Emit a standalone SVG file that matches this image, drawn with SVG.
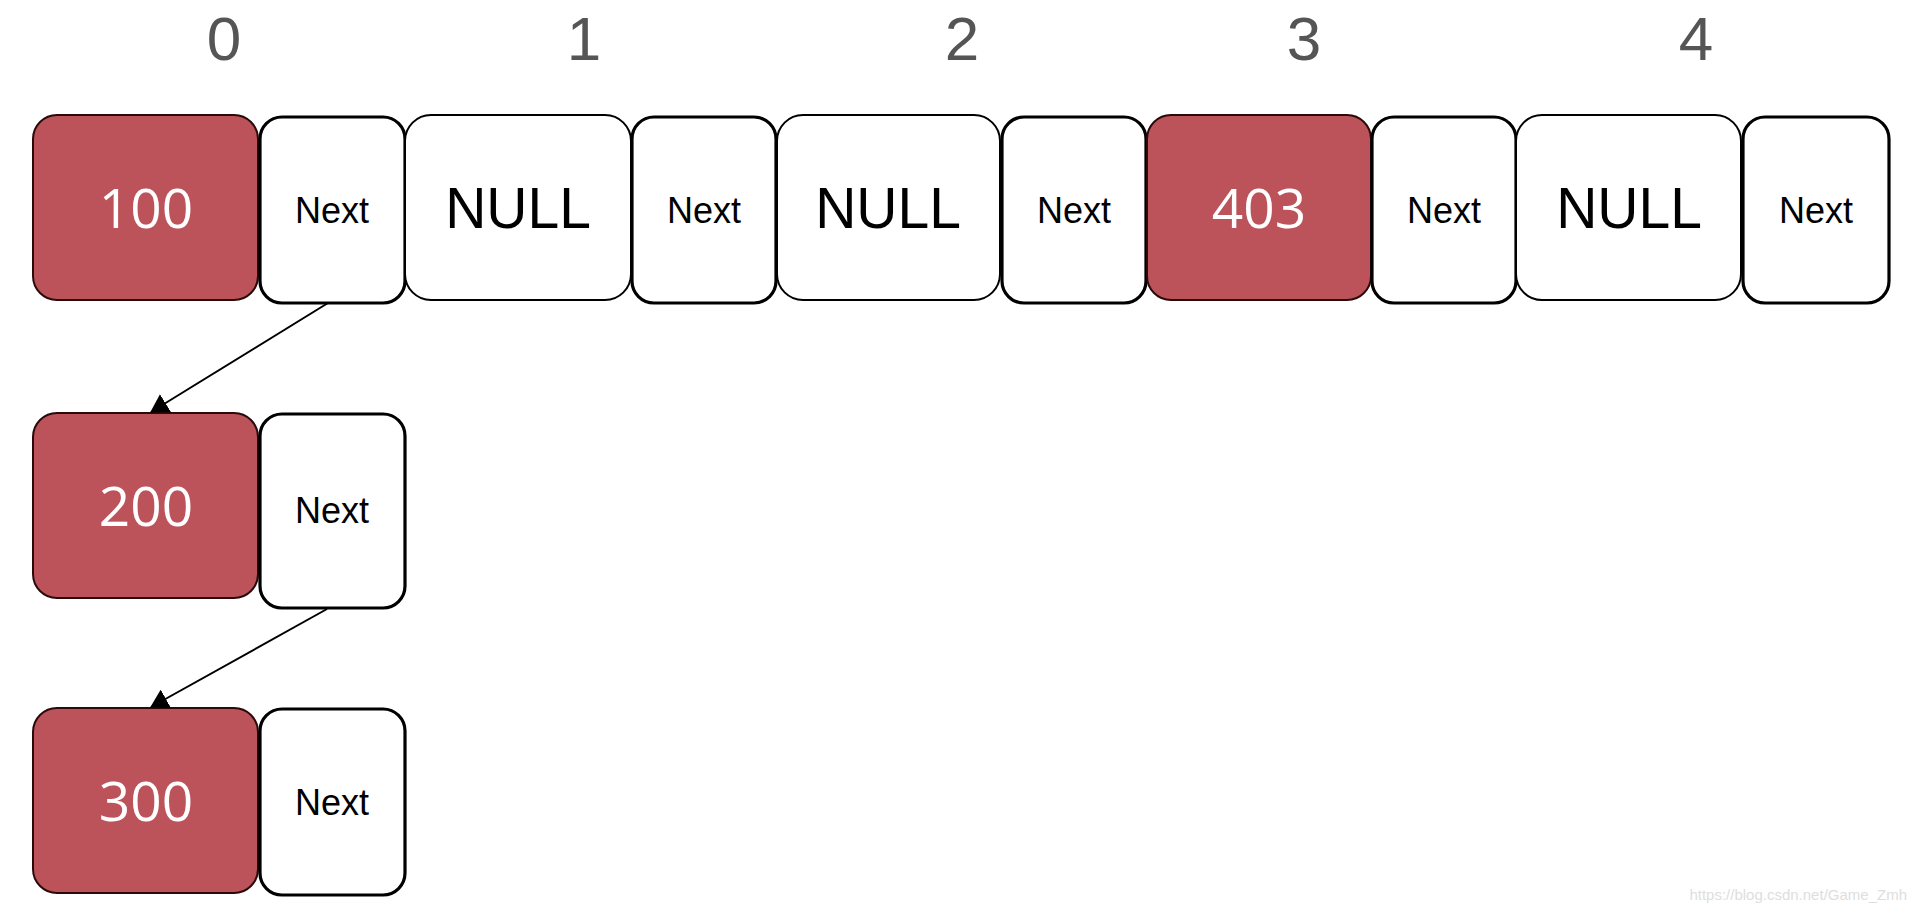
<svg xmlns="http://www.w3.org/2000/svg" width="1916" height="914" viewBox="0 0 1916 914">
<style>
.red{fill:#bc535a;stroke:#2a0a0a;stroke-width:2}
.nul{fill:#fff;stroke:#000;stroke-width:2}
.nxt{fill:#fff;stroke:#000;stroke-width:3.2}
.idx{font-family:"Liberation Sans",Arial,sans-serif;font-size:62px;fill:#555;text-anchor:middle}
.num{font-family:"Open Sans","Liberation Sans",sans-serif;font-size:55px;fill:#fff;text-anchor:middle}
.nt{font-family:"Liberation Sans",Arial,sans-serif;font-size:36px;fill:#000;text-anchor:middle}
.nl{font-family:"Liberation Sans",Arial,sans-serif;font-size:57px;fill:#000;text-anchor:middle}
.lnk{fill:none;stroke:#000;stroke-width:2}
.wm{font-family:"Liberation Sans",Arial,sans-serif;font-size:15px;fill:#dedede;text-anchor:end}
</style>
<defs>
<marker id="ah" markerUnits="userSpaceOnUse" viewBox="0 0 18 21" refX="17" refY="10.5" markerWidth="18" markerHeight="21" orient="auto">
<path d="M0,0 L18,10.5 L0,21 z" fill="#000"/>
</marker>
</defs>
<rect width="1916" height="914" fill="#fff"/>
<g id="indices">
<text class="idx" x="224" y="60">0</text>
<text class="idx" x="584" y="60">1</text>
<text class="idx" x="962" y="60">2</text>
<text class="idx" x="1304" y="60">3</text>
<text class="idx" x="1696" y="60">4</text>
</g>
<g id="n100"><rect class="red" x="33" y="115" width="225" height="185" rx="24"/><text class="num" x="146" y="228">100</text></g>
<g id="next0"><rect class="nxt" x="260" y="117" width="145" height="186" rx="22"/><text class="nt" x="332" y="223">Next</text></g>
<g id="null1"><rect class="nul" x="405" y="115" width="226" height="185" rx="26"/><text class="nl" x="518" y="228">NULL</text></g>
<g id="next1"><rect class="nxt" x="632" y="117" width="144" height="186" rx="22"/><text class="nt" x="704" y="223">Next</text></g>
<g id="null2"><rect class="nul" x="777" y="115" width="223" height="185" rx="26"/><text class="nl" x="888" y="228">NULL</text></g>
<g id="next2"><rect class="nxt" x="1002" y="117" width="144" height="186" rx="22"/><text class="nt" x="1074" y="223">Next</text></g>
<g id="n403"><rect class="red" x="1147" y="115" width="224" height="185" rx="24"/><text class="num" x="1259" y="228">403</text></g>
<g id="next3"><rect class="nxt" x="1372" y="117" width="144" height="186" rx="22"/><text class="nt" x="1444" y="223">Next</text></g>
<g id="null4"><rect class="nul" x="1516" y="115" width="225" height="185" rx="26"/><text class="nl" x="1629" y="228">NULL</text></g>
<g id="next4"><rect class="nxt" x="1743" y="117" width="146" height="186" rx="22"/><text class="nt" x="1816" y="223">Next</text></g>
<g id="n200"><rect class="red" x="33" y="413" width="225" height="185" rx="24"/><text class="num" x="146" y="526">200</text></g>
<g id="next200"><rect class="nxt" x="260" y="414" width="145" height="194" rx="22"/><text class="nt" x="332" y="523">Next</text></g>
<g id="n300"><rect class="red" x="33" y="708" width="225" height="185" rx="24"/><text class="num" x="146" y="821">300</text></g>
<g id="next300"><rect class="nxt" x="260" y="709" width="145" height="186" rx="22"/><text class="nt" x="332" y="815">Next</text></g>
<g id="connectors">
<path class="lnk" d="M328,303 L151,412" marker-end="url(#ah)"/>
<path class="lnk" d="M327,609 L151,707" marker-end="url(#ah)"/>
</g>
<text class="wm" x="1907" y="900">https://blog.csdn.net/Game_Zmh</text>
</svg>
